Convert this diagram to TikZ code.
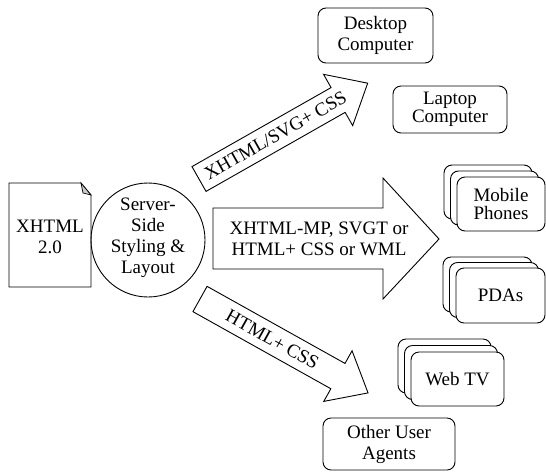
\documentclass[tikz,border=0pt]{standalone}
\usepackage{fontspec}
\setmainfont{Liberation Serif}
\begin{document}
\begin{tikzpicture}[x=1pt,y=-1pt,line width=0.9pt,line join=miter,
  lbl/.style={align=center,inner sep=0pt,font=\fontsize{19}{21}\selectfont},
  tight/.style={align=center,inner sep=0pt,font=\fontsize{19}{17.5}\selectfont},
  rbox/.style={draw,fill=white,rounded corners=8pt,inner sep=0pt},
  blockarrow/.style={draw,fill=white}]
\useasboundingbox (0,0) rectangle (546,472);

% source document
\draw (9,183) -- (81,183) -- (91,195) -- (91,287) -- (9,287) -- cycle;
\draw[fill=gray!40,line width=0.7pt] (81,183) -- (83,193) -- (91,195) -- cycle;
\node[lbl] (doc) at (50,237) {XHTML\\2.0};

% server-side circle
\node[draw,circle,minimum size=114pt,inner sep=0pt] (srv) at (148,240) {};
\node[lbl] (srvtxt) at (148,238) {Server-\\Side\\Styling \&\\Layout};

% upper diagonal arrow
\begin{scope}[shift={(199,179)},rotate=29.6]
  \draw[blockarrow] (0,-14.25) -- (160,-14.25) -- (160,-29.5) -- (194,0)
        -- (160,29.5) -- (160,14.25) -- (0,14.25) -- cycle;
  \node[lbl,transform shape] (a1) at (88,0) {XHTML/SVG+ CSS};
\end{scope}

% big horizontal arrow
\draw[blockarrow] (213,208) -- (383,208) -- (383,178) -- (439,239)
      -- (383,299) -- (383,269) -- (213,269) -- cycle;
\node[lbl] (a2) at (319,239) {XHTML-MP, SVGT or\\HTML+ CSS or WML};

% lower diagonal arrow
\begin{scope}[shift={(200,299)},rotate=-29.2]
  \draw[blockarrow] (0,-14.5) -- (158,-14.5) -- (158,-29) -- (192.5,0)
        -- (158,29) -- (158,14.5) -- (0,14.5) -- cycle;
  \node[lbl,transform shape] (a3) at (83,0) {HTML+ CSS};
\end{scope}

% targets
\node[rbox,lbl,minimum width=115pt,minimum height=55pt] (desk) at (375.5,35.5) {Desktop\\Computer};
\node[rbox,tight,minimum width=114pt,minimum height=47pt] (lap) at (450,109.5) {Laptop\\Computer};

\node[rbox,minimum width=88pt,minimum height=54pt] (mob3) at (488,192) {};
\node[rbox,minimum width=88pt,minimum height=54pt] (mob2) at (494.5,198) {};
\node[rbox,tight,minimum width=88pt,minimum height=54pt] (mob1) at (501,204) {Mobile\\Phones};

\node[rbox,minimum width=89pt,minimum height=55pt] (pda3) at (487.5,284.5) {};
\node[rbox,minimum width=89pt,minimum height=55pt] (pda2) at (494,290) {};
\node[rbox,lbl,minimum width=89pt,minimum height=55pt] (pda1) at (500.5,295.5) {PDAs};

\node[rbox,minimum width=93pt,minimum height=54pt] (tv3) at (444.5,366) {};
\node[rbox,minimum width=93pt,minimum height=54pt] (tv2) at (451,372.5) {};
\node[rbox,lbl,minimum width=93pt,minimum height=54pt] (tv1) at (457.5,379) {Web TV};

\node[rbox,lbl,minimum width=132pt,minimum height=52pt] (other) at (389,444) {Other User\\Agents};
\end{tikzpicture}
\end{document}
